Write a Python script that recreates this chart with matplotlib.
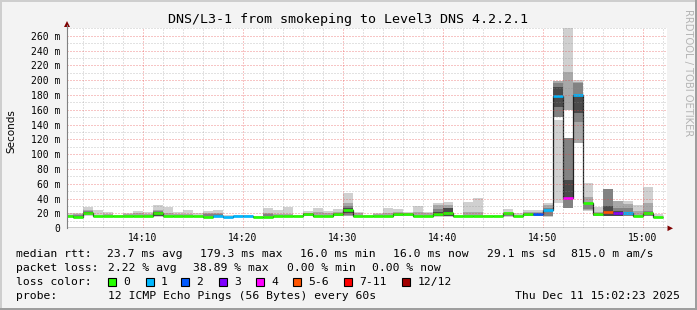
import matplotlib
matplotlib.use("Agg")
import matplotlib.pyplot as plt
from matplotlib.patches import Rectangle, Polygon
from matplotlib.lines import Line2D
import numpy as np

W, H = 697, 310

# column start of each 60s step, minutes after 14:00
minutes = list(range(2, 62))

median = [17, 15.5, 21, 17, 17, 17, 17, 17, 17, 20,
          17, 17, 17, 17, 15.5, 16.5, 15.3, 16.5, 16.5, 15.7,
          15.7, 17, 17, 17, 19.5, 17, 17, 19.7, 24.7, 17,
          17, 17, 17, 19.7, 19.7, 17, 17, 19, 20.2, 17,
          17, 17, 17, 17, 20, 17, 19.7, 19.7, 24.7, 178.5,
          41.3, 180.3, 33.7, 19.5, 22.4, 21, 21, 17, 20, 15.7]

lost = [0, 0, 0, 0, 0, 0, 0, 0, 0, 0,
        0, 0, 0, 0, 0, 1, 1, 1, 1, 0,
        0, 0, 0, 0, 0, 0, 0, 0, 0, 0,
        0, 0, 0, 0, 0, 0, 0, 0, 0, 0,
        0, 0, 0, 0, 0, 0, 0, 2, 1, 1,
        4, 1, 0, 0, 5, 3, 1, 0, 0, 0]

# smoke bands (low, high), outer -> inner
smoke_outer = [(15.5, 20), (14.5, 20), (17, 28.5), (16, 24.5), (16, 21.5), (16, 18), (16, 21), (16, 23.5), (16, 21.5), (15, 31),
               (16, 29), (16, 21.5), (16, 24.5), (16, 20), (15, 23.5), (15.5, 24.5), (15, 17.5), (16, 18.5), (16, 18.5), (15.5, 17),
               (15, 27.5), (16, 24.5), (16, 29), (16.5, 18), (16, 23.5), (16, 27.5), (16, 23), (16, 26.5), (16, 47.5), (16, 22.5),
               (16.5, 18), (16, 20.5), (16, 27.5), (16, 26), (16.5, 22.5), (16, 30.5), (16, 21.5), (15.5, 33.5), (15.5, 36), (16.5, 18),
               (16, 36), (16, 40.5), (16.5, 18.5), (16.5, 17.5), (15.5, 26), (16, 21), (16, 24.5), (16, 24.5), (15.7, 33.5), (33.7, 146),
               (159.6, 270.8), (115.5, 200), (23.7, 60.7), (16, 29), (16, 53), (16, 37), (16, 37.5), (15.7, 31.5), (16, 55.5), (15, 19.7)]

smoke_mid = [(15.5, 18), (15, 19), (18, 25), None, (16, 19), None, (16, 19), (16, 20), (16.5, 19), (16, 25),
             (16, 20), (16, 19), (16, 19), None, (15, 21), (16, 21), None, None, None, None,
             (15.5, 21), (16, 19), (16, 19), None, (16.5, 21), (16, 22), (16, 21), (16.5, 22.5), (17, 34), (16, 20.5),
             None, (16, 19), (16, 20.5), (16.5, 22.5), (17, 21), (16, 22.5), (16, 20.5), (16, 31.4), (16, 32), None,
             (16, 22.5), (16, 22.5), None, None, (16, 21), None, (16.5, 22.5), (16.5, 22.5), (16.5, 31.5), (150.6, 198.8),
             (159.6, 211.3), (115.5, 198), (25, 42.7), (16.5, 22), (16, 53), (16, 37), (16.5, 33), (16, 23.5), (16.5, 33.7), None]

smoke_inner = [None, (15, 18.5), (19, 23), None, None, None, None, None, None, (16.5, 23),
               None, None, None, None, (16, 19.5), (16.5, 19), None, None, None, None,
               (16, 19), None, None, None, (17, 20.5), None, None, (17, 21), (18, 30), None,
               None, None, None, (17, 21), None, None, None, (16.5, 25.5), (16.5, 28), None,
               None, None, None, None, (16, 19.5), None, (17, 21), (17, 21), (17, 27), (150.6, 195.7),
               (27, 121.4), (144, 195.7), (25.5, 31), (17, 21), (16.5, 53), (16.5, 27), (17, 28), None, (17, 24), None]

smoke_core = [None, None, (19.5, 22), None, None, None, None, None, None, (17, 21.5),
              None, None, None, None, None, None, None, None, None, None,
              None, None, None, None, None, None, None, None, (20, 27), None,
              None, None, None, None, None, None, None, (17, 22.4), (17, 27.5), None,
              None, None, None, None, None, None, None, None, None, (164, 191),
              (41, 65), (155, 178), None, None, (17, 30), (17, 23), None, None, None, None]

loss_labels = ["0", "1", "2", "3", "4", "5-6", "7-11", "12/12"]
loss_colors = ["#26ff00", "#00b8ff", "#0059ff", "#7e00ff", "#ff00ff", "#ff5500", "#ff0000", "#a10000"]

xtick_pos = [10, 20, 30, 40, 50, 60]
xtick_labels = ["14:10", "14:20", "14:30", "14:40", "14:50", "15:00"]
ytick_pos = list(range(0, 261, 20))

title = "DNS/L3-1 from smokeping to Level3 DNS 4.2.2.1"
rtt_row = [("median rtt:", 16.4), ("23.7 ms avg", 106.7), ("179.3 ms max", 200), ("16.0 ms min", 300),
           ("16.0 ms now", 393), ("29.1 ms sd", 486.7), ("815.0 m am/s", 571)]
loss_row = [("packet loss:", 16.4), ("2.22 % avg", 107.6), ("38.89 % max", 193.3), ("0.00 % min", 286.7),
            ("0.00 % now", 372.4)]
probe_text = "12 ICMP Echo Pings (56 Bytes) every 60s"
stamp = "Thu Dec 11 15:02:23 2025"


def loss_bin(n):
    if n <= 4:
        return n
    if n <= 6:
        return 5
    if n <= 11:
        return 6
    return 7


def fx(x):
    return x / W


def fy(y):
    return 1 - y / H


plt.rcParams['font.family'] = ['DejaVu Sans Mono']

fig = plt.figure(figsize=(W / 100, H / 100), dpi=100)
fig.patch.set_facecolor('#f3f3f3')

# 3d frame shading
fig.add_artist(Rectangle((0, fy(2)), 1, 2 / H, transform=fig.transFigure, color='#cecece', lw=0))
fig.add_artist(Rectangle((0, 0), 2 / W, 1, transform=fig.transFigure, color='#cecece', lw=0))
fig.add_artist(Rectangle((0, 0), 1, 2 / H, transform=fig.transFigure, color='#9e9e9e', lw=0))
fig.add_artist(Rectangle((fx(W - 2), 0), 2 / W, 1, transform=fig.transFigure, color='#9e9e9e', lw=0))

x0, x1, ytop, ybot = 67, 667, 27.7, 228.3
ax = fig.add_axes([fx(x0), fy(ybot), (x1 - x0) / W, (ybot - ytop) / H])
ax.set_facecolor('white')
for s in ax.spines.values():
    s.set_visible(False)

ax.set_xlim(2.45, 62.45)
ax.set_ylim(0, 270.8)

# smoke
for layer, col in [(smoke_outer, '#d0d0d0'), (smoke_mid, '#a8a8a8'),
                   (smoke_inner, '#828282'), (smoke_core, '#4a4a4a')]:
    xs = [m for m, b in zip(minutes, layer) if b]
    lo = np.array([b[0] for b in layer if b])
    hi = np.array([b[1] for b in layer if b])
    ax.bar(xs, hi - lo, bottom=lo, width=1, align='edge', color=col, linewidth=0, zorder=2)

# median line + loss colour
edges = minutes + [minutes[-1] + 1]
ax.stairs(median, edges, baseline=None, color='#202020', lw=0.9, zorder=3)
seg_colors = [loss_colors[loss_bin(n)] for n in lost]
ax.hlines(median, minutes, [m + 1 for m in minutes], colors=seg_colors, lw=1.9, zorder=4)

# grid on top like rrdtool, dotted lines
minor_c = (0.55, 0.55, 0.55, 0.5)
major_c = (0.9, 0.25, 0.25, 0.6)
gkw = dict(lw=0.72, ls=(0, (1, 2)), zorder=5, snap=True)
for m in range(4, 63, 2):
    if m % 10:
        ax.axvline(m, color=minor_c, **gkw)
for m in xtick_pos:
    ax.axvline(m, color=major_c, **gkw)
for v in range(10, 271, 20):
    ax.axhline(v, color=minor_c, **gkw)
for v in ytick_pos[1:]:
    ax.axhline(v, color=major_c, **gkw)
ax.axhline(0, color='black', lw=1.0, zorder=6)

ax.set_xticks(xtick_pos)
ax.set_xticklabels(xtick_labels)
ax.set_yticks(ytick_pos)
ax.set_yticklabels(["0"] + ["%d m" % v for v in ytick_pos[1:]])
ax.tick_params(axis='both', length=0, labelsize=7)
ax.tick_params(axis='y', pad=5)
ax.tick_params(axis='x', pad=3.5)

# axis lines and arrows
fig.add_artist(Line2D([fx(x0), fx(x0)], [fy(ybot), fy(25)], transform=fig.transFigure, color='#818181', lw=0.8))
fig.add_artist(Polygon([(fx(67), fy(21)), (fx(64), fy(27)), (fx(70), fy(27))], closed=True,
                       transform=fig.transFigure, color='#7f0000', lw=0))
fig.add_artist(Polygon([(fx(673), fy(228.3)), (fx(667.5), fy(225.5)), (fx(667.5), fy(231.1))], closed=True,
                       transform=fig.transFigure, color='#7f0000', lw=0))

# titles
fig.text(fx(348), fy(19), title, ha='center', va='center', fontsize=9.6)
fig.text(fx(11), fy(131), "Seconds", rotation=90, ha='center', va='center', fontsize=7.5, family='DejaVu Sans')
fig.text(fx(688), fy(73), "RRDTOOL / TOBI OETIKER", rotation=270, ha='center', va='center',
         fontsize=7.2, color='#b4b4b4', family='DejaVu Sans')

# legend rows
fs = 8.2
for txt, x in rtt_row:
    fig.text(fx(x), fy(254), txt, ha='left', va='center', fontsize=fs)
for txt, x in loss_row:
    fig.text(fx(x), fy(268), txt, ha='left', va='center', fontsize=fs)
fig.text(fx(16.4), fy(282), "loss color:", ha='left', va='center', fontsize=fs)
box_x = [108.3, 146, 181.5, 219, 256, 293.3, 344.4, 402.2]
for lab, col, bx in zip(loss_labels, loss_colors, box_x):
    fig.add_artist(Rectangle((fx(bx), fy(286.3)), 7.5 / W, 8 / H, transform=fig.transFigure,
                             facecolor=col, edgecolor='black', lw=0.8))
    fig.text(fx(bx + 15), fy(282), lab, ha='left', va='center', fontsize=fs)
fig.text(fx(16.4), fy(296), "probe:", ha='left', va='center', fontsize=fs)
fig.text(fx(107.6), fy(296), probe_text, ha='left', va='center', fontsize=fs)
fig.text(fx(680), fy(296), stamp, ha='right', va='center', fontsize=fs)

fig.savefig("out.png", dpi=100, facecolor=fig.get_facecolor())
